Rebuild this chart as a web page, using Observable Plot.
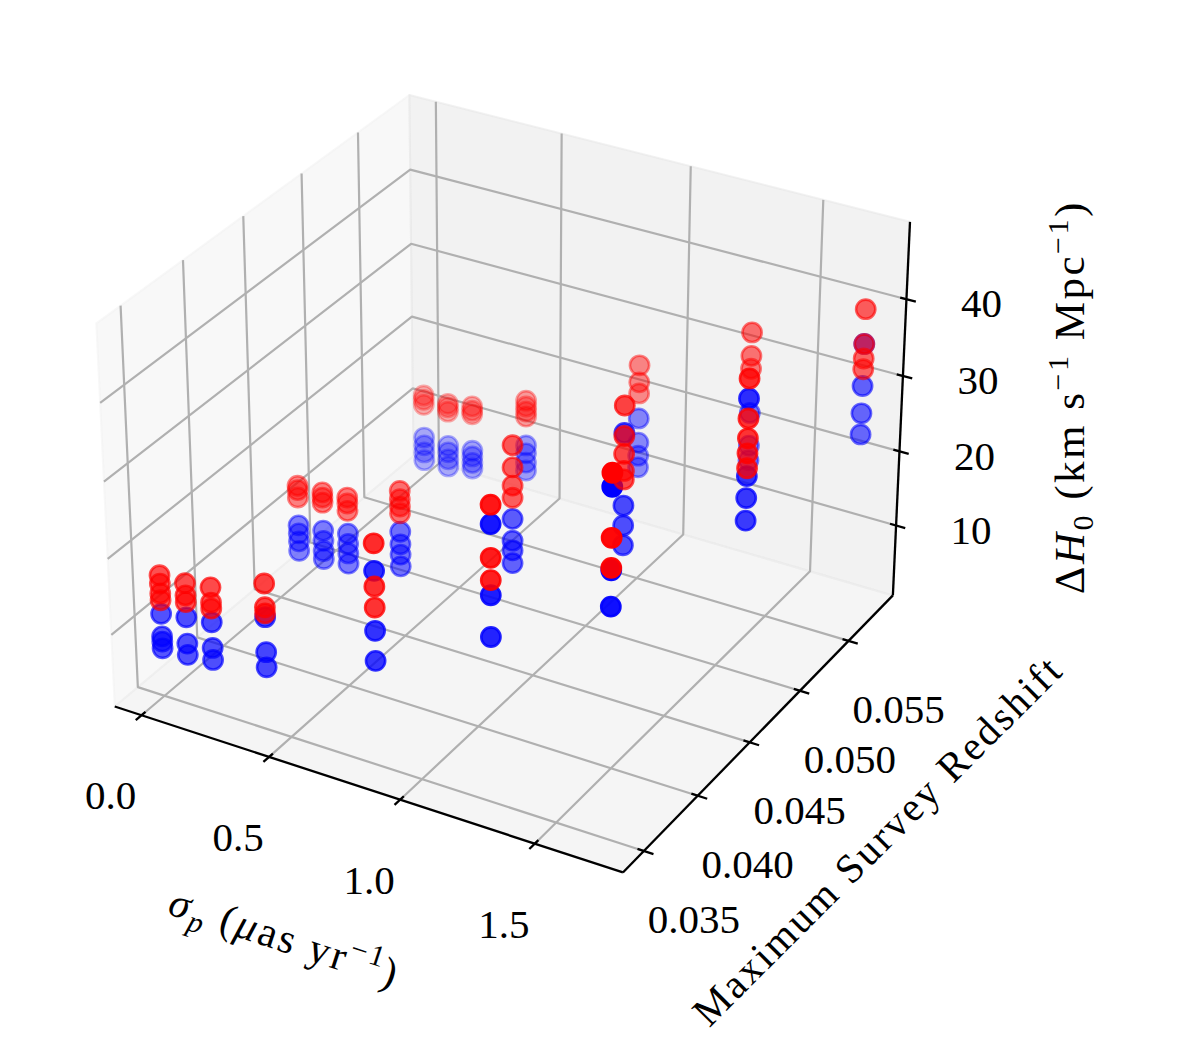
<!DOCTYPE html>
<html>
<head>
<meta charset="utf-8">
<script src="https://cdn.jsdelivr.net/npm/d3@7"></script>
<script src="https://cdn.jsdelivr.net/npm/@observablehq/plot@0.6"></script>
<style>
  html, body { margin: 0; padding: 0; background: #ffffff; }
  svg { overflow: visible; }
</style>
</head>
<body>
<script>
// ---------------- data ----------------
// one entry per vertical column of points: (sigma_p, maximum survey redshift)
const colZmax  = [0.035, 0.035, 0.035, 0.035, 0.035, 0.035, 0.035,
                  0.0467, 0.0467, 0.0467, 0.0467, 0.0467, 0.0467, 0.0467,
                  0.0583, 0.0583, 0.0583, 0.0583, 0.0583, 0.0583, 0.0583];
const colSigma = [0, 0.1, 0.2, 0.41, 0.83, 1.26, 1.69,
                  0, 0.1, 0.2, 0.41, 0.85, 1.27, 1.72,
                  0, 0.1, 0.2, 0.42, 0.87, 1.30, 1.72];
// Delta H0 values of the red series, per column
const redDH0 = [
  [16.5, 15.4, 14.1, 13.2], [16.5, 14.9, 14.0], [17.0, 15.0, 14.2], [19.7, 16.6, 15.8],
  [29.2, 23.7, 21.0], [38.4, 31.8, 29.0], [46.6, 38.7, 35.0],
  [13.5, 12.9, 11.9], [13.6, 12.9, 12.2], [13.9, 13.1, 12.1], [16.9, 15.8, 14.8, 13.9],
  [27.3, 24.4, 22.0, 20.4], [36.5, 32.6, 30.3, 28.1, 27.0], [44.2, 39.2, 36.7, 34.8, 32.9],
  [11.7, 11.1, 10.4], [11.5, 11.0, 10.4], [12.1, 11.5, 11.0], [15.0, 14.2, 13.5, 12.8],
  [24.1, 21.8, 20.3], [32.5, 29.4, 27.7], [39.4, 34.9, 33.0, 31.6]
];
// Delta H0 values of the blue series, per column
const blueDH0 = [
  [11.4, 8.4, 7.7, 6.8], [12.0, 8.5, 7.0], [12.4, 9.0, 7.4], [15.3, 10.7, 8.7],
  [25.7, 18.0, 14.1], [36.0, 27.1, 21.8], [44.9, 34.7, 30.2],
  [8.1, 7.0, 5.9, 4.6], [8.4, 7.0, 5.6, 4.5], [9.0, 7.6, 6.3, 4.9], [11.4, 9.7, 8.3, 6.7],
  [17.6, 14.7, 13.4, 11.7], [33.0, 23.6, 21.0, 18.4], [41.7, 31.9, 29.1, 26.2],
  [5.8, 4.7, 3.7, 2.6], [5.6, 4.7, 3.7, 2.7], [5.9, 5.1, 4.2, 3.4], [8.8, 7.7, 6.4, 5.3],
  [16.9, 13.6, 11.8, 10.2], [21.8, 17.4, 15.4], [34.9, 29.4, 25.8, 23.0]
];
const seriesNames  = ["blue", "red"];
const seriesColors = ["#0000ff", "#ff0000"];

const xTicks = [0.0, 0.5, 1.0, 1.5];
const xTickLabels = ["0.0", "0.5", "1.0", "1.5"];
const yTicks = [0.035, 0.040, 0.045, 0.050, 0.055];
const yTickLabels = ["0.035", "0.040", "0.045", "0.050", "0.055"];
const zTicks = [10, 20, 30, 40];
const zTickLabels = ["10", "20", "30", "40"];

// ---------------- 3D camera (matplotlib-like default view) ----------------
const lim = {x: [-0.107, 1.82], y: [0.0331, 0.0597], z: [0.4, 49.9]};
const boxAspect = [4, 4, 3];
const bnorm = Math.hypot(...boxAspect);
const aspect = boxAspect.map(a => a * 1.8294640721620434 * 25 / 24 / bnorm);
const elev = 30 * Math.PI / 180, azim = -60 * Math.PI / 180, dist = 10;
const W = [Math.cos(elev) * Math.cos(azim), Math.cos(elev) * Math.sin(azim), Math.sin(elev)];
let U = [-W[1], W[0], 0];
const un = Math.hypot(...U); U = U.map(c => c / un);
const V = [W[1] * U[2] - W[2] * U[1], W[2] * U[0] - W[0] * U[2], W[0] * U[1] - W[1] * U[0]];
const dot = (a, b) => a[0] * b[0] + a[1] * b[1] + a[2] * b[2];
function proj(x, y, z) {
  const d = [
    ((x - lim.x[0]) / (lim.x[1] - lim.x[0]) - 0.5) * aspect[0],
    ((y - lim.y[0]) / (lim.y[1] - lim.y[0]) - 0.5) * aspect[1],
    ((z - lim.z[0]) / (lim.z[1] - lim.z[0]) - 0.5) * aspect[2]
  ];
  const den = dist - dot(W, d);
  return {sx: dot(U, d) / den, sy: dot(V, d) / den, depth: den};
}

// screen layout of the projected axes
const width = 1177, height = 1058;
const S = 4890, OX = 510.5, OY = 464.5;
const xDomain = [(0 - OX) / S, (width - OX) / S];
const yDomain = [(OY - height) / S, OY / S];

const [x0, x1] = lim.x, [y0, y1] = lim.y, [z0, z1] = lim.z;
const xr = x1 - x0, yr = y1 - y0, zr = z1 - z0;

// panes
function pane(name, corners) {
  return corners.concat([corners[0]]).map(c => ({pane: name, ...proj(...c)}));
}
const paneX = pane("x", [[x0, y0, z0], [x0, y1, z0], [x0, y1, z1], [x0, y0, z1]]);
const paneY = pane("y", [[x0, y1, z0], [x1, y1, z0], [x1, y1, z1], [x0, y1, z1]]);
const paneZ = pane("z", [[x0, y0, z0], [x1, y0, z0], [x1, y1, z0], [x0, y1, z0]]);

// grid lines
const grid = [];
xTicks.forEach((t, i) => [[t, y0, z0], [t, y1, z0], [t, y1, z1]].forEach(c => grid.push({id: "x" + i, ...proj(...c)})));
yTicks.forEach((t, i) => [[x1, t, z0], [x0, t, z0], [x0, t, z1]].forEach(c => grid.push({id: "y" + i, ...proj(...c)})));
zTicks.forEach((t, i) => [[x0, y0, t], [x0, y1, t], [x1, y1, t]].forEach(c => grid.push({id: "z" + i, ...proj(...c)})));

// axis lines
const axes = [];
[[x0, y0, z0], [x1, y0, z0]].forEach(c => axes.push({id: "x", ...proj(...c)}));
[[x1, y0, z0], [x1, y1, z0]].forEach(c => axes.push({id: "y", ...proj(...c)}));
[[x1, y1, z0], [x1, y1, z1]].forEach(c => axes.push({id: "z", ...proj(...c)}));

// tick marks
const tIn = 0.012, tOut = 0.018;
const ticks = [];
xTicks.forEach((t, i) => [[t, y0 + tIn * yr, z0], [t, y0 - tOut * yr, z0]].forEach(c => ticks.push({id: "x" + i, ...proj(...c)})));
yTicks.forEach((t, i) => [[x1 - tIn * xr, t, z0], [x1 + tOut * xr, t, z0]].forEach(c => ticks.push({id: "y" + i, ...proj(...c)})));
zTicks.forEach((t, i) => [[x1 - tIn * xr, y1, t], [x1 + tOut * xr, y1, t]].forEach(c => ticks.push({id: "z" + i, ...proj(...c)})));

// tick labels
const xLab = xTicks.map((t, i) => ({label: xTickLabels[i], ...proj(t, y0, z0)}));
const yLab = yTicks.map((t, i) => ({label: yTickLabels[i], ...proj(x1, t, z0)}));
const zLab = zTicks.map((t, i) => ({label: zTickLabels[i], ...proj(x1, y1, t)}));

// scatter points, depth shaded per series (farther = more transparent)
function seriesPoints(k) {
  const vals = k === 0 ? blueDH0 : redDH0;
  const pts = [];
  colSigma.forEach((sg, i) => vals[i].forEach(h => {
    pts.push({series: seriesNames[k], sigma: sg, zmax: colZmax[i], dH0: h, ...proj(sg, colZmax[i], h)});
  }));
  const dmin = d3.min(pts, p => p.depth), dmax = d3.max(pts, p => p.depth);
  pts.forEach(p => p.alpha = 1 - 0.7 * (p.depth - dmin) / (dmax - dmin));
  pts.sort((a, b) => b.depth - a.depth);
  return pts;
}
const bluePts = seriesPoints(0);
const redPts = seriesPoints(1);

const FONT = "'Liberation Serif', 'DejaVu Serif', serif";
const FS = 41;

const plot = Plot.plot({
  width, height,
  marginTop: 0, marginRight: 0, marginBottom: 0, marginLeft: 0,
  x: {domain: xDomain, axis: null},
  y: {domain: yDomain, axis: null},
  style: {fontFamily: FONT, background: "white"},
  marks: [
    Plot.line(paneX, {x: "sx", y: "sy", fill: "rgb(242,242,242)", fillOpacity: 0.5, stroke: "rgb(242,242,242)", strokeOpacity: 0.5, strokeWidth: 2, curve: "linear"}),
    Plot.line(paneY, {x: "sx", y: "sy", fill: "rgb(230,230,230)", fillOpacity: 0.5, stroke: "rgb(230,230,230)", strokeOpacity: 0.5, strokeWidth: 2, curve: "linear"}),
    Plot.line(paneZ, {x: "sx", y: "sy", fill: "rgb(236,236,236)", fillOpacity: 0.5, stroke: "rgb(236,236,236)", strokeOpacity: 0.5, strokeWidth: 2, curve: "linear"}),
    Plot.line(grid, {x: "sx", y: "sy", z: "id", stroke: "#b0b0b0", strokeWidth: 2.2, strokeLinecap: "butt", strokeLinejoin: "miter"}),
    Plot.line(axes, {x: "sx", y: "sy", z: "id", stroke: "black", strokeWidth: 2.3, strokeLinecap: "butt", strokeLinejoin: "miter"}),
    Plot.line(ticks, {x: "sx", y: "sy", z: "id", stroke: "black", strokeWidth: 2.3, strokeLinecap: "butt"}),
    Plot.dot(bluePts, {x: "sx", y: "sy", r: 9.6, fill: seriesColors[0], fillOpacity: "alpha", stroke: seriesColors[0], strokeOpacity: "alpha", strokeWidth: 2.6}),
    Plot.dot(redPts, {x: "sx", y: "sy", r: 9.6, fill: seriesColors[1], fillOpacity: "alpha", stroke: seriesColors[1], strokeOpacity: "alpha", strokeWidth: 2.6}),
    Plot.text(xLab, {x: "sx", y: "sy", text: "label", dx: -31, dy: 81, fontSize: FS, fill: "black", textAnchor: "middle", lineAnchor: "middle"}),
    Plot.text(yLab, {x: "sx", y: "sy", text: "label", dx: 50, dy: 69, fontSize: FS, fill: "black", textAnchor: "middle", lineAnchor: "middle"}),
    Plot.text(zLab, {x: "sx", y: "sy", text: "label", dx: 75, dy: 5, fontSize: FS, fill: "black", textAnchor: "middle", lineAnchor: "middle"})
  ]
});
document.body.appendChild(plot);

// ---------------- axis titles (rich text) ----------------
const svg = d3.select(plot);
const px = v => plot.scale("x").apply(v);
const py = v => plot.scale("y").apply(v);
function axisTitle(anchor3d, dx, dy, angle, fs, spacing, parts) {
  const p = proj(...anchor3d);
  const t = svg.append("text")
    .attr("transform", `translate(${px(p.sx) + dx},${py(p.sy) + dy}) rotate(${angle})`)
    .attr("text-anchor", "middle")
    .attr("y", 14)
    .attr("font-family", FONT)
    .attr("font-size", fs)
    .attr("letter-spacing", spacing)
    .attr("fill", "black");
  parts.forEach(([txt, opts]) => {
    const s = t.append("tspan").text(txt);
    if (opts) Object.entries(opts).forEach(([k, v]) => s.attr(k, v));
  });
}
// sigma_p (mu as yr^-1)
axisTitle([(x0 + x1) / 2, y0, z0], -77, 151, 18.2, 42, 2.5, [
  ["σ", {"font-style": "italic"}],
  ["p", {"font-style": "italic", "font-size": 30, "dy": 9}],
  [" (", {"dy": -9}],
  ["μ", {"font-style": "italic"}],
  ["as yr"],
  ["−1", {"font-size": 30, "dy": -16}],
  [")", {"dy": 16}]
]);
// Maximum Survey Redshift
axisTitle([x1, (y0 + y1) / 2, z0], 114, 113, -45, 41, 2.5, [["Maximum Survey Redshift"]]);
// Delta H0 (km s^-1 Mpc^-1)
axisTitle([x1, y1, (z0 + z1) / 2], 169, -15, -90, 43, 2.5, [
  ["Δ"],
  ["H", {"font-style": "italic"}],
  ["0", {"font-size": 30, "dy": 9}],
  [" (km s", {"dy": -9}],
  ["−1", {"font-size": 30, "dy": -16}],
  [" Mpc", {"dy": 16}],
  ["−1", {"font-size": 30, "dy": -16}],
  [")", {"dy": 16}]
]);
</script>
</body>
</html>
